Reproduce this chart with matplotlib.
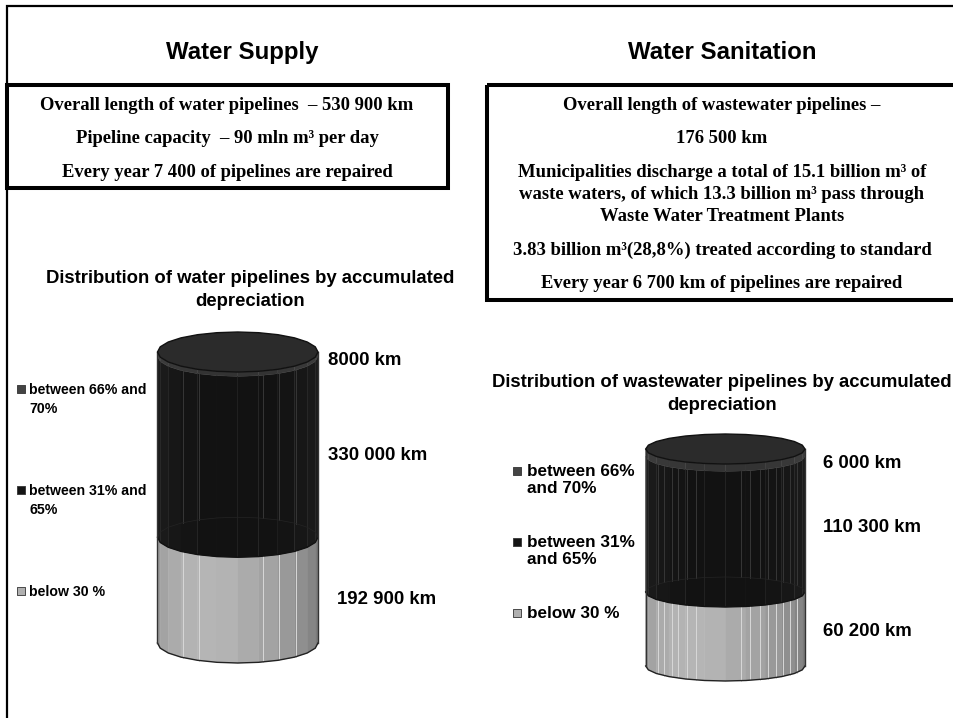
import numpy as np
import matplotlib
matplotlib.use("Agg")
import matplotlib.pyplot as plt
from matplotlib.patches import Rectangle

W, H = 954, 718

# km per accumulated depreciation band, bottom to top
supply_km = [192900, 330000, 8000]
sanitation_km = [60200, 110300, 6000]
supply_labels = ["192 900 km", "330 000 km", "8000 km"]
sanitation_labels = ["60 200 km", "110 300 km", "6 000 km"]

left_lines = ["Overall length of water pipelines  \u2013 530 900 km",
              "Pipeline capacity  \u2013 90 mln m\u00b3 per day",
              "Every year 7 400 of pipelines are repaired"]
right_lines = ["Overall length of wastewater pipelines \u2013",
               "176 500 km",
               "Municipalities discharge a total of 15.1 billion m\u00b3 of",
               "waste waters, of which 13.3 billion m\u00b3 pass through",
               "Waste Water Treatment Plants",
               "3.83 billion m\u00b3(28,8%) treated according to standard",
               "Every year 6 700 km of pipelines are repaired"]

# shades of the front facets, left to right
grey_shades = [.60, .64, .67, .70, .71, .70, .67, .64, .60, .56, .52, .48]
dark_shades = [.11, .10, .09, .08, .07, .07, .07, .07, .08, .09, .10, .11]
band_shades = [.24, .23, .22, .21, .20, .20, .20, .20, .21, .22, .23, .24]

SANS = "Liberation Sans"
SERIF = "Liberation Serif"


def gray(v):
    return (v, v, v)


def cylinder(box, ry, km, labels, label_x, label_y, streaks):
    x0, y_top, x1, y_base = box
    ax = fig.add_axes([x0 / W, 1 - y_base / H, (x1 - x0) / W, (y_base - y_top) / H])
    total = sum(km)
    ax.set_xlim(-1, 1)
    ax.set_ylim(0, total)
    ax.axis("off")
    ry_km = ry * total / (y_base - y_top)

    ang = np.radians(np.arange(180, 361, 15))
    xs = np.cos(ang)
    front = ry_km * np.sin(ang)
    stops = np.cumsum([0] + km)

    for i in range(12):
        px = [xs[i], xs[i + 1], xs[i + 1], xs[i]]
        for j, shades in enumerate([grey_shades, dark_shades, band_shades]):
            py = [stops[j] + front[i], stops[j] + front[i + 1],
                  stops[j + 1] + front[i + 1], stops[j + 1] + front[i]]
            ax.fill(px, py, color=gray(shades[i]), lw=0.3, clip_on=False, zorder=2)

    # lighter seams on the body
    for sx in streaks:
        f = -ry_km * np.sqrt(1 - sx ** 2)
        ax.plot([sx, sx], [f, stops[1] + f], color="#d8d8d8", lw=0.7, clip_on=False, zorder=3)
        ax.plot([sx, sx], [stops[1] - f, stops[2] + f], color="#3c3c3c", lw=0.6, clip_on=False, zorder=3)

    # outlines: bottom curve, band joints, back of the joint seen through the dark band
    ax.plot(xs, front, color="#222222", lw=1, clip_on=False, zorder=4)
    ax.plot(xs, stops[1] + front, color="#111111", lw=1, clip_on=False, zorder=4)
    ax.plot(xs, stops[1] - front, color="#242424", lw=0.5, clip_on=False, zorder=4)
    ax.plot([-1, -1], [0, total], color="#333333", lw=1, clip_on=False, zorder=4)
    ax.plot([1, 1], [0, total], color="#333333", lw=1, clip_on=False, zorder=4)

    full = np.radians(np.arange(0, 360, 15))
    ax.fill(np.cos(full), total + ry_km * np.sin(full), facecolor=gray(.17),
            edgecolor="#111111", lw=1, clip_on=False, zorder=5)

    for text, lx, ly in zip(labels, label_x, label_y):
        bg.text(lx, ly, text, family=SANS, weight="bold", fontsize=13.4, ha="left", va="baseline")


def legend(x_sq, x_txt, rows, size, sq, gap):
    for text, y, col in rows:
        bg.scatter([x_sq], [y], marker="s", s=sq, facecolor=col, edgecolor="#333333", lw=0.6)
        for i, part in enumerate(text.split("\n")):
            bg.text(x_txt, y + 5 + i * gap, part, family=SANS, weight="bold", fontsize=size,
                    ha="left", va="baseline")


fig = plt.figure(figsize=(W / 100, H / 100), dpi=100)
bg = fig.add_axes([0, 0, 1, 1])
bg.set_xlim(0, W)
bg.set_ylim(H, 0)
bg.axis("off")

# outer frame
bg.plot([7, 7, W + 5], [H + 5, 6, 6], color="black", lw=1.6, solid_joinstyle="miter")
bg.add_patch(Rectangle((7, 85), 441, 103, fill=False, ec="black", lw=2.9, joinstyle="miter"))
bg.add_patch(Rectangle((487, 85), W, 215, fill=False, ec="black", lw=2.9, joinstyle="miter"))

bg.text(242.5, 59, "Water Supply", family=SANS, weight="bold", fontsize=17.3, ha="center", va="baseline")
bg.text(722, 59, "Water Sanitation", family=SANS, weight="bold", fontsize=17.3, ha="center", va="baseline")

for line, y in zip(left_lines, [110, 143, 177]):
    bg.text(227, y, line, family=SERIF, weight="bold", fontsize=13.4, ha="center", va="baseline")
for line, y in zip(right_lines, [110, 143, 177, 199, 221, 255, 288]):
    bg.text(722, y, line, family=SERIF, weight="bold", fontsize=13.4, ha="center", va="baseline")

bg.text(250, 283, "Distribution of water pipelines by accumulated", family=SANS,
        weight="bold", fontsize=13.35, ha="center", va="baseline")
bg.text(250, 306, "depreciation", family=SANS, weight="bold", fontsize=13.35, ha="center", va="baseline")
bg.text(722, 387, "Distribution of wastewater pipelines by accumulated", family=SANS,
        weight="bold", fontsize=13.35, ha="center", va="baseline")
bg.text(722, 410, "depreciation", family=SANS, weight="bold", fontsize=13.35, ha="center", va="baseline")

cylinder((157.5, 352, 318, 643), 20, supply_km, supply_labels,
         [337, 328, 328], [604, 460, 365], [-.68, -.48, .32, .52, .73])
cylinder((645.7, 449, 805, 666), 15, sanitation_km, sanitation_labels,
         [823, 823, 823], [636, 532, 468],
         [-.84, -.77, -.67, -.59, -.48, -.37, .2, .31, .43, .53, .64, .72, .81, .9])

legend(21, 29.5, [("between 66% and\n70%", 389, "#444444"),
                  ("between 31% and\n65%", 490, "#141414"),
                  ("below 30 %", 591, "#b0b0b0")], 10.2, 32, 19)
legend(517, 527, [("between 66%\nand 70%", 471, "#444444"),
                  ("between 31%\nand 65%", 542, "#141414"),
                  ("below 30 %", 613, "#b0b0b0")], 12.3, 36, 17)

fig.savefig("out.png", dpi=100)
